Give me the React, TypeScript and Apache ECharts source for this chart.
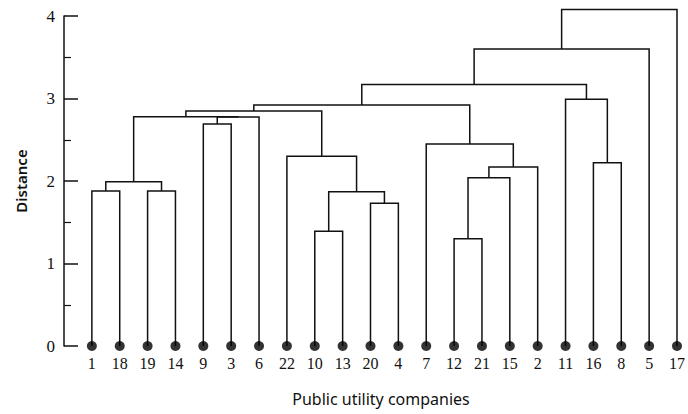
import React, { useEffect, useRef } from "react";
import * as echarts from "echarts";

// Leaf labels (public utility companies), in dendrogram order
const leaves = ["1", "18", "19", "14", "9", "3", "6", "22", "10", "13", "20", "4", "7", "12", "21", "15", "2", "11", "16", "8", "5", "17"];
// Merge steps: node ids 0..21 are leaves, each merge creates node 22, 23, ...
const mergeLeft = [0, 2, 22, 4, 25, 24, 8, 10, 28, 7, 27, 13, 33, 34, 12, 32, 18, 17, 37, 40, 41];
const mergeRight = [1, 3, 23, 5, 6, 26, 9, 11, 29, 30, 31, 14, 15, 16, 35, 36, 19, 38, 39, 20, 21];
const mergeHeight = [1.88, 1.88, 1.99, 2.69, 2.775, 2.78, 1.39, 1.73, 1.87, 2.3, 2.85, 1.3, 2.04, 2.17, 2.45, 2.92, 2.22, 2.99, 3.17, 3.6, 4.08];
const yTicks = [0, 1, 2, 3, 4];

function buildLinks() {
  const xs: number[] = leaves.map((_, i) => i);
  const hs: number[] = leaves.map(() => 0);
  const links: number[][] = [];
  for (let k = 0; k < mergeLeft.length; k++) {
    const l = mergeLeft[k];
    const r = mergeRight[k];
    const h = mergeHeight[k];
    links.push([xs[l], hs[l], xs[r], hs[r], h]);
    xs.push((xs[l] + xs[r]) / 2);
    hs.push(h);
  }
  return links;
}

export default function App() {
  const ref = useRef<HTMLDivElement>(null);
  useEffect(() => {
    if (!ref.current) return;
    const chart = echarts.init(ref.current, null, { renderer: "svg" });
    const links = buildLinks();
    chart.setOption({
      animation: false,
      backgroundColor: "#fff",
      grid: { left: 64, right: 9, top: 16, bottom: 68 },
      xAxis: {
        type: "value",
        min: -1,
        max: leaves.length - 1,
        interval: 1,
        axisLine: { show: false, onZero: false },
        axisTick: { show: false },
        splitLine: { show: false },
        axisLabel: {
          margin: 9,
          fontFamily: "Liberation Serif",
          fontSize: 16,
          color: "#111",
          formatter: (v: number) => (v >= 0 && Number.isInteger(v) ? leaves[v] : ""),
        },
        name: "Public utility companies",
        nameLocation: "middle",
        nameGap: 45,
        nameTextStyle: {
          fontFamily: "Noto Sans",
          fontSize: 16,
          color: "#111",
          padding: [0, 0, 0, 21],
        },
      },
      yAxis: {
        type: "value",
        min: yTicks[0],
        max: yTicks[yTicks.length - 1],
        interval: 1,
        axisLine: { show: true, onZero: false, lineStyle: { color: "#111", width: 1.5 } },
        axisTick: { show: true, inside: true, length: 14, lineStyle: { color: "#111", width: 1.5 } },
        minorTick: { show: true, splitNumber: 2, length: 7, lineStyle: { color: "#111", width: 1.2 } },
        splitLine: { show: false },
        axisLabel: {
          margin: 9,
          fontFamily: "Liberation Serif",
          fontSize: 17,
          color: "#111",
        },
        name: "Distance",
        nameLocation: "middle",
        nameGap: 36,
        nameTextStyle: {
          fontFamily: "Noto Sans",
          fontSize: 15,
          fontWeight: 600,
          color: "#111",
        },
      },
      series: [
        {
          type: "custom",
          data: links,
          encode: { x: [0, 2], y: [1, 3, 4] },
          clip: false,
          renderItem: (params: any, api: any) => {
            const xl = api.value(0);
            const hl = api.value(1);
            const xr = api.value(2);
            const hr = api.value(3);
            const h = api.value(4);
            const pts = [
              api.coord([xl, hl]),
              api.coord([xl, h]),
              api.coord([xr, h]),
              api.coord([xr, hr]),
            ];
            return {
              type: "polyline",
              shape: { points: pts },
              style: { stroke: "#111", lineWidth: 1.5, fill: "none" },
            };
          },
        },
        {
          type: "scatter",
          data: leaves.map((_, i) => [i, 0]),
          symbol: "circle",
          symbolSize: 10,
          itemStyle: { color: "#000" },
          clip: false,
          z: 5,
        },
      ],
    });
    return () => chart.dispose();
  }, []);
  return (
    <div
      ref={ref}
      style={{ position: "absolute", left: 0, top: 0, width: 688, height: 414 }}
    />
  );
}
